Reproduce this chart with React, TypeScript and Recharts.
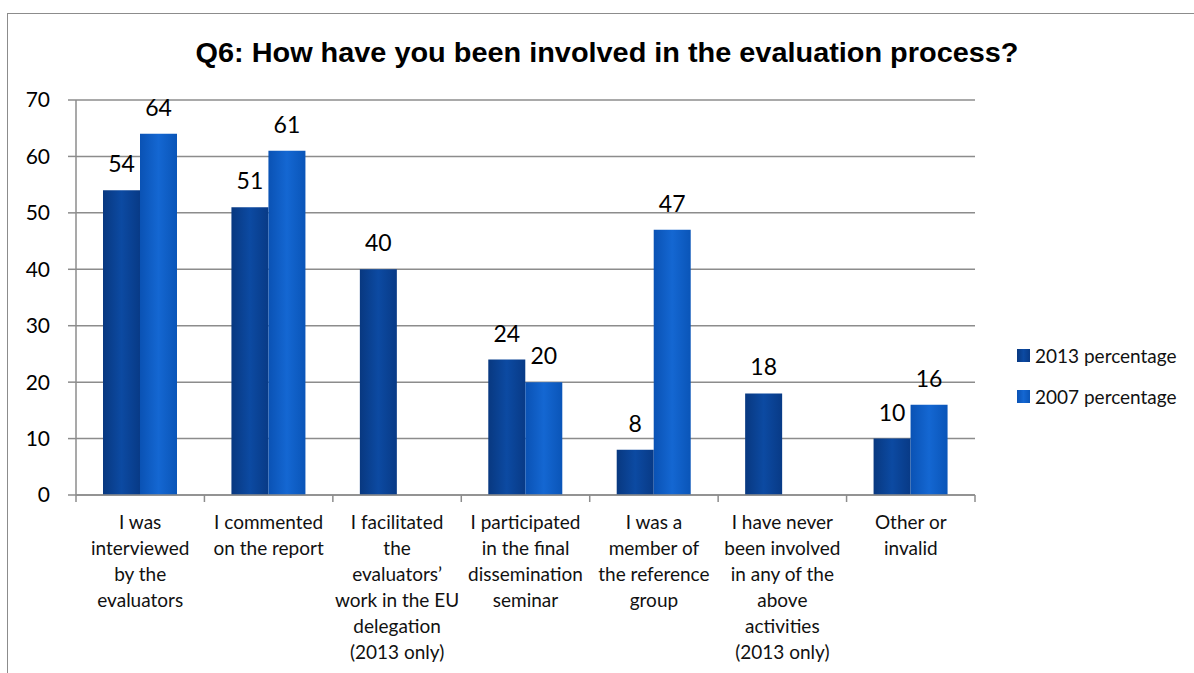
import { BarChart, Bar, XAxis, YAxis, CartesianGrid, LabelList } from 'recharts';

const categories = [
  'I was interviewed by the evaluators',
  'I commented on the report',
  'I facilitated the evaluators’ work in the EU delegation (2013 only)',
  'I participated in the final dissemination seminar',
  'I was a member of the reference group',
  'I have never been involved in any of the above activities (2013 only)',
  'Other or invalid',
];

// how Excel wrapped each category label
const categoryLines = [
  ['I was', 'interviewed', 'by the', 'evaluators'],
  ['I commented', 'on the report'],
  ['I facilitated', 'the', 'evaluators’', 'work in the EU', 'delegation', '(2013 only)'],
  ['I participated', 'in the final', 'dissemination', 'seminar'],
  ['I was a', 'member of', 'the reference', 'group'],
  ['I have never', 'been involved', 'in any of the', 'above', 'activities', '(2013 only)'],
  ['Other or', 'invalid'],
];

const pct2013 = [54, 51, 40, 24, 8, 18, 10];
const pct2007 = [64, 61, null, 20, 47, null, 16];

const seriesNames = ['2013 percentage', '2007 percentage'];
const yTicks = [0, 10, 20, 30, 40, 50, 60, 70];

const title = 'Q6: How have you been involved in the evaluation process?';

const chartData = categories.map((name, i) => ({
  name,
  y2013: pct2013[i],
  y2007: pct2007[i],
}));

const GRID = '#8c8c8c';
const FONT = 'Lato, "Noto Sans", sans-serif';

const CategoryTick = (props: any) => {
  const { x, y, payload } = props;
  const idx = categories.indexOf(payload.value);
  const lines = categoryLines[idx] || [payload.value];
  const half = payload.offset || 0;
  return (
    <g>
      <line x1={x - half} y1={y} x2={x - half} y2={y + 7} stroke={GRID} strokeWidth={1.5} />
      {idx === categories.length - 1 && (
        <line x1={x + half} y1={y} x2={x + half} y2={y + 7} stroke={GRID} strokeWidth={1.5} />
      )}
      <text x={x} y={y + 34} textAnchor="middle" fontSize={19} fontFamily={FONT} fill="#111">
        {lines.map((l, i) => (
          <tspan key={i} x={x} dy={i === 0 ? 0 : 26}>
            {l}
          </tspan>
        ))}
      </text>
    </g>
  );
};

export default function App() {
  return (
    <div style={{ position: 'absolute', left: 0, top: 0, width: 1194, height: 673, overflow: 'hidden', background: '#fff' }}>
      <div
        style={{
          position: 'absolute',
          left: 7,
          top: 13,
          width: 1300,
          height: 800,
          border: '1.5px solid #8c8c8c',
        }}
      />
      <svg width={1194} height={90} style={{ position: 'absolute', left: 0, top: 0 }}>
        <text
          x={607}
          y={62}
          textAnchor="middle"
          fontSize={28}
          fontWeight="bold"
          fontFamily='"Liberation Sans", Arial, sans-serif'
          textLength={823}
          lengthAdjust="spacingAndGlyphs"
          fill="#000"
        >
          {title}
        </text>
      </svg>

      <div style={{ position: 'absolute', left: 0, top: 0 }}>
        <BarChart
          width={1194}
          height={673}
          data={chartData}
          margin={{ top: 100, right: 219, left: 0, bottom: 0 }}
          barGap={0}
          barSize={37}
        >
          <defs>
            <linearGradient id="g2013" x1="0" y1="0" x2="1" y2="0">
              <stop offset="0%" stopColor="#083880" />
              <stop offset="50%" stopColor="#0c4aa2" />
              <stop offset="100%" stopColor="#083a86" />
            </linearGradient>
            <linearGradient id="g2007" x1="0" y1="0" x2="1" y2="0">
              <stop offset="0%" stopColor="#0a52b4" />
              <stop offset="50%" stopColor="#1467d2" />
              <stop offset="100%" stopColor="#0a55b8" />
            </linearGradient>
          </defs>
          <CartesianGrid vertical={false} stroke={GRID} strokeWidth={1.5} />
          <XAxis
            dataKey="name"
            type="category"
            height={178}
            interval={0}
            tickLine={false}
            tickSize={0}
            tickMargin={0}
            axisLine={{ stroke: GRID, strokeWidth: 1.5 }}
            tick={<CategoryTick />}
          />
          <YAxis
            width={76}
            domain={[0, 70]}
            ticks={yTicks}
            interval={0}
            tickSize={8}
            tickMargin={18}
            tickLine={{ stroke: GRID, strokeWidth: 1.5 }}
            axisLine={{ stroke: GRID, strokeWidth: 1.5 }}
            tick={{ fontSize: 21, fontFamily: FONT, fill: '#000' }}
          />
          <Bar dataKey="y2013" name={seriesNames[0]} fill="url(#g2013)" isAnimationActive={false}>
            <LabelList dataKey="y2013" position="top" offset={18} fontSize={23} fontFamily={FONT} fill="#000" />
          </Bar>
          <Bar dataKey="y2007" name={seriesNames[1]} fill="url(#g2007)" isAnimationActive={false}>
            <LabelList dataKey="y2007" position="top" offset={18} fontSize={23} fontFamily={FONT} fill="#000" />
          </Bar>
        </BarChart>
      </div>

      {seriesNames.map((s, i) => (
        <div
          key={s}
          style={{
            position: 'absolute',
            left: 1017,
            top: 344 + i * 41,
            display: 'flex',
            alignItems: 'center',
            fontFamily: FONT,
            fontSize: 19,
            color: '#111',
            whiteSpace: 'nowrap',
          }}
        >
          <span
            style={{
              display: 'inline-block',
              width: 13,
              height: 13,
              marginRight: 5,
              background: i === 0 ? 'linear-gradient(90deg,#083880,#0c4aa2,#083a86)' : 'linear-gradient(90deg,#0a52b4,#1467d2,#0a55b8)',
            }}
          />
          {s}
        </div>
      ))}
    </div>
  );
}
